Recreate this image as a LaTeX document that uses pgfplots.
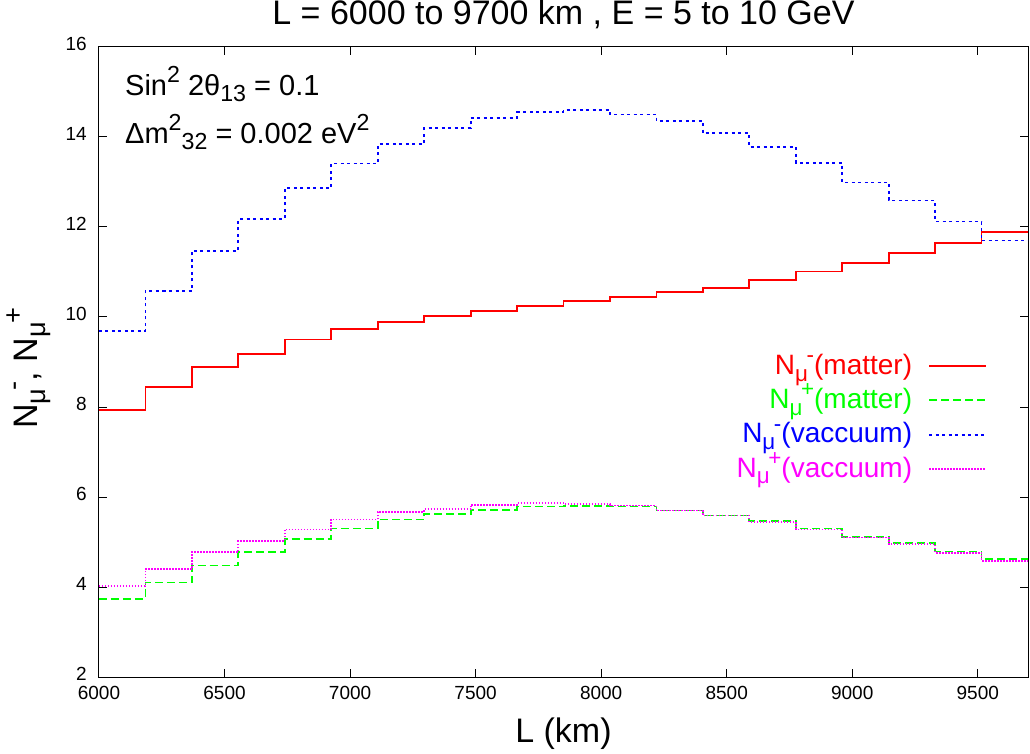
\documentclass[border=0pt]{standalone}
\usepackage{fontspec}
\setmainfont{Liberation Sans}
\usepackage{graphicx}
\usepackage{pgfplots}
\pgfplotsset{compat=1.18}
\definecolor{cred}{RGB}{255,0,0}
\definecolor{cgreen}{RGB}{0,255,0}
\definecolor{cblue}{RGB}{0,0,255}
\definecolor{cmag}{RGB}{255,0,255}
\newcommand\sups[1]{\raisebox{0.42em}{\scalebox{0.8}{#1}}}
\newcommand\subs[1]{\raisebox{-0.24em}{\scalebox{0.8}{#1}}}
\newcommand\subsup[2]{\subs{#1}\kern-0.05em\sups{#2}}
\begin{document}
\begin{tikzpicture}
\begin{axis}[
  scale only axis, width=929pt, height=630pt,
  xmin=6000, xmax=9700, ymin=2, ymax=16,
  xtick={6000,6500,...,9500}, ytick={2,4,...,16},
  tick align=inside, tick pos=both, major tick length=8pt,
  axis line style={black, line width=1pt},
  tick style={black, line width=1pt},
  /pgf/number format/assume math mode=true,
  /pgf/number format/set thousands separator={},
  tick label style={font=\fontsize{19}{21}\selectfont, inner sep=0pt, text height=0.72em, text depth=0pt},
  xticklabel style={yshift=-15pt},
  yticklabel style={xshift=-12pt},
  title={L = 6000 to 9700 km , E = 5 to 10 GeV},
  title style={font=\fontsize{34}{38}\selectfont, inner sep=0pt, text height=0.72em, text depth=0pt,
    at={(axis description cs:0.5,1.0254)}, anchor=base},
  xlabel={L (km)},
  xlabel style={font=\fontsize{34}{38}\selectfont, at={(axis description cs:0.5,-0.1032)}, anchor=base},
  ylabel={N\subsup{μ}{-}, N\subsup{μ}{+}},
  ylabel style={font=\fontsize{34}{38}\selectfont, at={(axis description cs:-0.0667,0.49)}, anchor=base},
  legend style={draw=none, fill=none, at={(0.9559,0.515)}, anchor=north east,
    font=\fontsize{28}{32}\selectfont, inner sep=0pt, outer sep=0pt, row sep=0pt,
    nodes={inner sep=0pt, text height=21.75pt, text depth=12.55pt}},
  legend cell align=right, legend plot pos=right,
  legend image code/.code={\path[draw=none,fill=none] (0pt,0.37em) -- (17pt,0.37em); \draw[#1] (17pt,0.37em) -- (74pt,0.37em);},
  const plot mark left, no markers,
]
\addplot[cred, line width=1.8pt] coordinates {
(6000,7.94)(6185,8.44)(6370,8.89)(6555,9.17)(6740,9.50)(6925,9.73)(7110,9.88)(7295,10.03)(7480,10.14)(7665,10.24)
(7850,10.35)(8035,10.44)(8220,10.56)(8405,10.65)(8590,10.83)(8775,11.01)(8960,11.20)(9145,11.42)(9330,11.64)(9515,11.88)(9700,11.88)};
\addlegendentry{\textcolor{cred}{N\subsup{μ}{-}(matter)}}
\addplot[cgreen, line width=1.8pt, dash pattern=on 8pt off 4pt] coordinates {
(6000,3.74)(6185,4.10)(6370,4.48)(6555,4.78)(6740,5.06)(6925,5.30)(7110,5.50)(7295,5.62)(7480,5.72)(7665,5.79)
(7850,5.80)(8035,5.79)(8220,5.70)(8405,5.59)(8590,5.46)(8775,5.30)(8960,5.12)(9145,4.97)(9330,4.79)(9515,4.62)(9700,4.62)};
\addlegendentry{\textcolor{cgreen}{N\subsup{μ}{+}(matter)}}
\addplot[cblue, line width=1.8pt, dash pattern=on 3pt off 3.5pt] coordinates {
(6000,9.68)(6185,10.58)(6370,11.47)(6555,12.18)(6740,12.86)(6925,13.41)(7110,13.84)(7295,14.20)(7480,14.42)(7665,14.55)
(7850,14.60)(8035,14.50)(8220,14.36)(8405,14.08)(8590,13.78)(8775,13.43)(8960,12.99)(9145,12.59)(9330,12.12)(9515,11.70)(9700,11.70)};
\addlegendentry{\textcolor{cblue}{N\subsup{μ}{-}(vaccuum)}}
\addplot[cmag, line width=1.8pt, dash pattern=on 1.5pt off 1.5pt] coordinates {
(6000,4.03)(6185,4.40)(6370,4.78)(6555,5.02)(6740,5.28)(6925,5.50)(7110,5.67)(7295,5.73)(7480,5.82)(7665,5.86)
(7850,5.84)(8035,5.81)(8220,5.70)(8405,5.59)(8590,5.44)(8775,5.28)(8960,5.10)(9145,4.95)(9330,4.76)(9515,4.58)(9700,4.58)};
\addlegendentry{\textcolor{cmag}{N\subsup{μ}{+}(vaccuum)}}
\node[anchor=base west, inner sep=0pt, font=\fontsize{29}{32}\selectfont] at (rel axis cs:0.028,0.9238) {Sin\sups{2} 2θ\subs{13} = 0.1};
\node[anchor=base west, inner sep=0pt, font=\fontsize{29}{32}\selectfont] at (rel axis cs:0.028,0.8476) {Δm\sups{2}\subs{32} = 0.002 eV\sups{2}};
\end{axis}
\pgfresetboundingbox
\path (-99pt,-76pt) rectangle (931pt,677pt);
\end{tikzpicture}
\end{document}
